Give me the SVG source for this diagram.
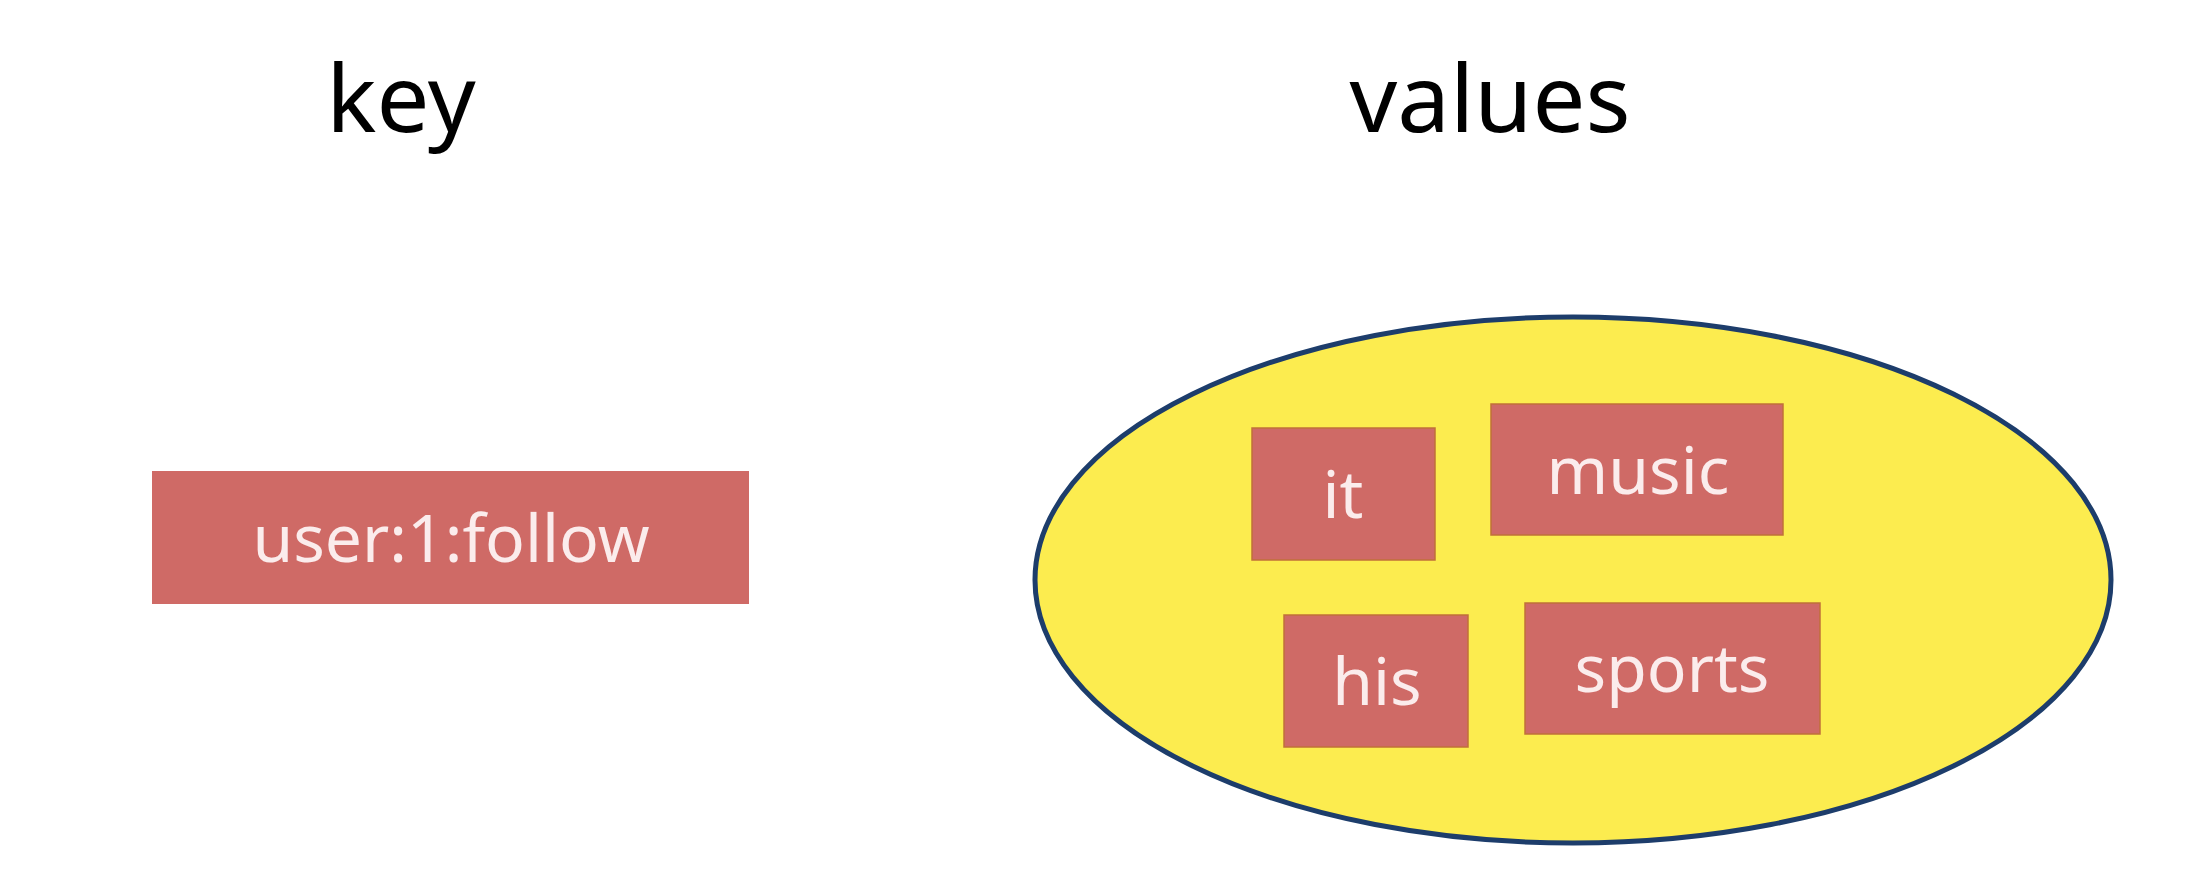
<svg xmlns="http://www.w3.org/2000/svg" width="2198" height="878" viewBox="0 0 2198 878">
  <style>
    .title { font-family: "Noto Sans", "Liberation Sans", sans-serif; font-size: 94px; fill: #000000; text-anchor: middle; }
    .box { fill: #cf6a66; stroke: #c0703a; stroke-width: 1.5; }
    .label { font-family: "Noto Sans", "Liberation Sans", sans-serif; font-size: 66px; fill: #fbecec; text-anchor: middle; }
  </style>
  <rect x="0" y="0" width="2198" height="878" fill="#ffffff"/>
  <g id="title-key"><text class="title" x="401" y="132">key</text></g>
  <g id="title-values"><text class="title" x="1490" y="132">values</text></g>
  <g id="key-node">
    <rect x="152" y="471" width="597" height="133" fill="#cf6a66"/>
    <text class="label" x="451" y="562">user:1:follow</text>
  </g>
  <g id="set">
    <ellipse cx="1573" cy="580" rx="538" ry="263" fill="#fcec4f" stroke="#1d3d6b" stroke-width="5"/>
  </g>
  <g id="it">
    <rect class="box" x="1252" y="428" width="183" height="132"/>
    <text class="label" x="1343" y="518">it</text>
  </g>
  <g id="music">
    <rect class="box" x="1491" y="404" width="292" height="131"/>
    <text class="label" x="1638" y="494">music</text>
  </g>
  <g id="his">
    <rect class="box" x="1284" y="615" width="184" height="132"/>
    <text class="label" x="1377" y="705">his</text>
  </g>
  <g id="sports">
    <rect class="box" x="1525" y="603" width="295" height="131"/>
    <text class="label" x="1672" y="692">sports</text>
  </g>
  <g id="connectors"></g>
</svg>
